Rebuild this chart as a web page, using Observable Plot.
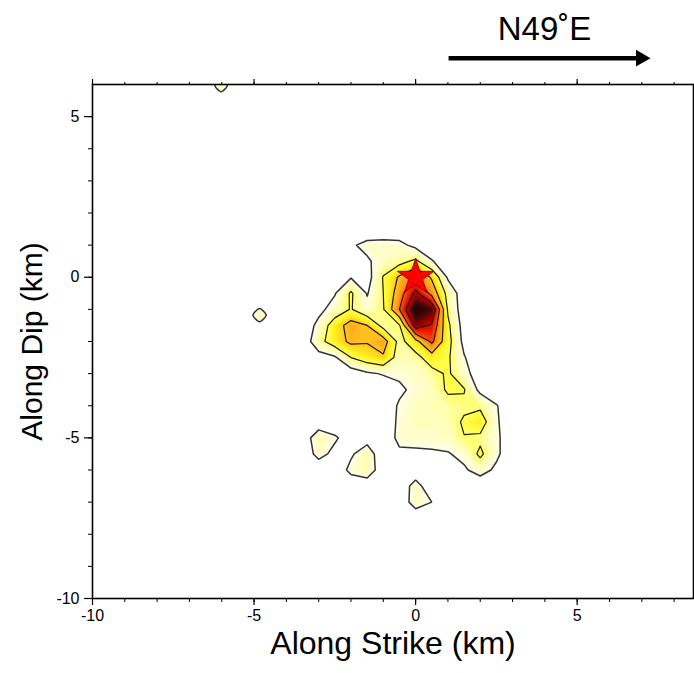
<!DOCTYPE html>
<html>
<head>
<meta charset="utf-8">
<script src="https://cdn.jsdelivr.net/npm/d3@7"></script>
<script src="https://cdn.jsdelivr.net/npm/@observablehq/plot@0.6"></script>
<style>
  html, body { margin: 0; padding: 0; background: #fff; }
  #chart { width: 694px; height: 673px; }
</style>
</head>
<body>
<div id="chart"></div>
<script>
// ---- Slip distribution grid, nodes every 0.5 km ----
// columns: x = -3.5 ... 3.5 km ; rows: y = 1.5 ... -7.5 km
const gridX = [-3.5, -3, -2.5, -2, -1.5, -1, -0.5, 0, 0.5, 1, 1.5, 2, 2.5, 3, 3.5];
const gridY = [1.5, 1, 0.5, 0, -0.5, -1, -1.5, -2, -2.5, -3, -3.5, -4, -4.5, -5, -5.5, -6, -6.5, -7, -7.5];
const slip = [
  [0,0,0,0,0,0,0,0,0,0,0,0,0,0,0],
  [0,0,0,0.08,0.14,0.15,0.14,0.06,0,0,0,0,0,0,0],
  [0,0,0,0.03,0.08,0.16,0.2,0.28,0.11,0.02,0,0,0,0,0],
  [0,0,0.02,0.09,0.04,0.26,0.42,0.56,0.38,0.08,0,0,0,0,0],
  [0,0.02,0.09,0.27,0.09,0.25,0.48,0.74,0.5,0.2,0.02,0,0,0,0],
  [0,0.06,0.16,0.26,0.14,0.24,0.55,0.93,0.84,0.23,0.02,0,0,0,0],
  [0,0.14,0.33,0.46,0.4,0.2,0.24,0.78,0.68,0.28,0.04,0,0,0,0],
  [0,0.2,0.33,0.43,0.41,0.47,0.2,0.35,0.58,0.3,0.06,0,0,0,0],
  [0,0.04,0.08,0.25,0.33,0.38,0.18,0.2,0.33,0.27,0.11,0,0,0,0],
  [0,0,0,0.02,0.08,0.11,0.13,0.15,0.2,0.27,0.15,0.02,0,0,0],
  [0,0,0,0,0,0.02,0.07,0.14,0.17,0.27,0.26,0.06,0,0,0],
  [0,0,0,0,0,0,0.12,0.16,0.18,0.2,0.22,0.22,0.11,0,0],
  [0,0,0,0,0,0,0.13,0.17,0.17,0.18,0.27,0.33,0.12,0,0],
  [0,0.2,0.12,0.03,0.04,0,0.14,0.15,0.15,0.16,0.245,0.22,0.13,0,0],
  [0,0.15,0.06,0.08,0.18,0,0.07,0.07,0.08,0.09,0.14,0.28,0.13,0,0],
  [0,0,0,0.14,0.2,0,0,0,0,0,0.08,0.16,0.07,0,0],
  [0,0,0,0,0,0,0,0.16,0,0,0,0,0,0,0],
  [0,0,0,0,0,0,0,0.17,0.1,0,0,0,0,0,0],
  [0,0,0,0,0,0,0,0,0,0,0,0,0,0,0]
];
const gridStep = 0.5;

// small isolated patches: centres, cell size, and 5x5 value patch
const islandCX = [-6.02, -4.83];
const islandCY = [5.97, -1.18];
const islandStep = [0.16, 0.17];
const islandPatch = [
  0, 0,    0,    0,    0,
  0, 0.06, 0.13, 0.06, 0,
  0, 0.13, 0.2,  0.13, 0,
  0, 0.06, 0.13, 0.06, 0,
  0, 0,    0,    0,    0
];

// hypocentre
const hypoX = [0];
const hypoY = [0];

// strike-direction annotation
const strikeLabel = "N49˚E";
const arrowFromX = 1.02, arrowToX = 6.97, arrowY = 6.82, labelX = 3.99, labelY = 7.72;

// axes
const xMajor = [-10, -5, 0, 5];
const xMinor = [-10,-9,-8,-7,-6,-5,-4,-3,-2,-1,0,1,2,3,4,5,6,7,8];
const yMajor = [-10, -5, 0, 5];
const yMinor = [-10,-9,-8,-7,-6,-5,-4,-3,-2,-1,0,1,2,3,4,5];
const xTitle = "Along Strike (km)";
const yTitle = "Along Dip (km)";

// contour levels & colours
const outerLevel = [0.1];
const innerLevels = [0.25, 0.4, 0.55, 0.7, 0.85];
const fillLevels = d3.range(0.1, 1.0, 0.02);
const colorDomain = [0.1, 0.18, 0.25, 0.32, 0.4, 0.48, 0.55, 0.63, 0.7, 0.78, 0.85, 0.95];
const colorRange = ["#fffde4", "#ffffb0", "#ffff50", "#fff020", "#ffc020", "#ff9a18",
                    "#ff5a10", "#f01a00", "#c00000", "#800000", "#400000", "#180000"];

const font = "'Liberation Sans', Arial, Helvetica, sans-serif";

// gridded contour layers (fill + lines) for a value grid
function slipLayers(values, w, h, x1, x2, y1, y2) {
  const base = {width: w, height: h, x1, x2, y1, y2, clip: true};
  return [
    Plot.contour(values, {...base, fill: Plot.identity, thresholds: fillLevels, stroke: "none"}),
    Plot.contour(values, {...base, value: Plot.identity, thresholds: innerLevels,
      fill: "none", stroke: "#1a1a1a", strokeWidth: 1.2}),
    Plot.contour(values, {...base, value: Plot.identity, thresholds: outerLevel,
      fill: "none", stroke: "#333333", strokeWidth: 1.5})
  ];
}

const mainLayers = slipLayers(
  slip.flat(), gridX.length, gridY.length,
  gridX[0] - gridStep / 2, gridX[gridX.length - 1] + gridStep / 2,
  gridY[0] + gridStep / 2, gridY[gridY.length - 1] - gridStep / 2
);
const islandLayers = islandCX.flatMap((cx, k) => slipLayers(
  islandPatch, 5, 5,
  cx - 2.5 * islandStep[k], cx + 2.5 * islandStep[k],
  islandCY[k] + 2.5 * islandStep[k], islandCY[k] - 2.5 * islandStep[k]
));

const chart = Plot.plot({
  width: 694,
  height: 673,
  marginLeft: 92,
  marginRight: 1,
  marginTop: 84,
  marginBottom: 75,
  style: {fontFamily: font, fontSize: "16px", background: "white", color: "black"},
  x: {domain: [-10, 8.6], label: null},
  y: {domain: [-10, 6], label: null},
  color: {type: "linear", domain: colorDomain, range: colorRange, clamp: true},
  marks: [
    ...mainLayers,
    ...islandLayers,
    Plot.dot(hypoX.map((x, i) => ({x, y: hypoY[i]})), {
      x: "x", y: "y", symbol: "star", r: 11.4,
      fill: "#ff0000", stroke: "#700000", strokeWidth: 0.8
    }),
    Plot.frame({stroke: "black", strokeWidth: 1.6}),
    // bottom axis
    Plot.axisX(xMajor, {anchor: "bottom", tickSize: 7, tickPadding: 4, fontSize: 16,
      tickFormat: d => String(d), label: null, strokeWidth: 1.2}),
    Plot.axisX(xMinor, {anchor: "bottom", tickSize: 4, fill: "none", label: null, strokeWidth: 1}),
    // top axis (ticks only)
    Plot.axisX(xMajor, {anchor: "top", tickSize: 6, fill: "none", label: null, strokeWidth: 1.2}),
    Plot.axisX(xMinor, {anchor: "top", tickSize: 3, fill: "none", label: null, strokeWidth: 1}),
    // left axis
    Plot.axisY(yMajor, {anchor: "left", tickSize: 8, tickPadding: 5, fontSize: 16,
      tickFormat: d => String(d), label: null, strokeWidth: 1.2}),
    Plot.axisY(yMinor, {anchor: "left", tickSize: 4, fill: "none", label: null, strokeWidth: 1}),
    // axis titles
    Plot.text([xTitle], {frameAnchor: "bottom", dy: 55, fontSize: 32, text: d => d}),
    Plot.text([yTitle], {frameAnchor: "left", dx: -60, rotate: -90, fontSize: 30,
      textAnchor: "middle", text: d => d}),
    // strike arrow
    Plot.link([{x1: arrowFromX, x2: arrowToX, y: arrowY}], {
      x1: "x1", x2: "x2", y1: "y", y2: "y", stroke: "black", strokeWidth: 4.5
    }),
    Plot.dot([{x: arrowToX, y: arrowY}], {
      x: "x", y: "y", symbol: "triangle", r: 6.2, rotate: 90, fill: "black", stroke: "none"
    }),
    Plot.text([strikeLabel], {x: labelX, y: labelY, fontSize: 33, text: d => d})
  ]
});

document.getElementById("chart").appendChild(chart);
</script>
</body>
</html>
